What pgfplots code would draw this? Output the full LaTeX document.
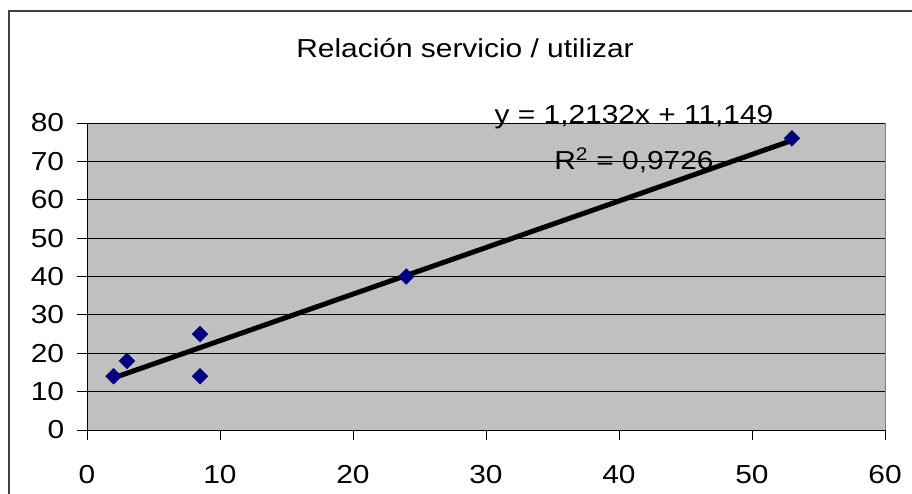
\documentclass[border=0pt]{standalone}
\usepackage{fontspec}
\setmainfont[FakeStretch=1.15]{Liberation Sans}
\usepackage{pgfplots}
\pgfplotsset{compat=1.18}
\definecolor{excelgray}{HTML}{C0C0C0}
\definecolor{navyblue}{HTML}{000080}
\begin{document}
\fontsize{26}{31}\selectfont
\begin{tikzpicture}[x=1pt,y=1pt]
\path[use as bounding box] (0,0) rectangle (912,493);
\draw[line width=1.5pt, color=black!75] (9,-5) -- (9,482) -- (920,482);
\begin{axis}[
  at={(87pt,63pt)}, anchor=south west,
  scale only axis, width=798pt, height=307pt,
  xmin=0, xmax=60, ymin=0, ymax=80,
  xtick={0,10,...,60}, ytick={0,10,...,80},
  axis background/.style={fill=excelgray, draw=gray, line width=1pt},
  axis lines=left, axis line style={-, black, line width=1pt},
  tick align=outside, major tick length=10pt, tick style={black, line width=1pt},
  ymajorgrids, grid style={black, line width=0.8pt},
  /pgf/number format/assume math mode=true,
  ticklabel style={font=\fontsize{26}{31}\selectfont},
  xticklabel style={yshift=-16pt},
  yticklabel style={xshift=-4pt},
  clip=false,
]
\addplot[only marks, mark=square*, mark size=5.6pt, mark options={rotate=45, fill=navyblue, draw=navyblue}]
  coordinates {(2,14) (3,18) (8.5,25) (8.5,14) (24,40) (53,76)};
\addplot[black, line width=5pt] coordinates {(2,13.575) (53,75.449)};
\end{axis}
\node at (465,445) {Relación servicio / utilizar};
\node at (634,376) {y = 1,2132x + 11,149};
\node at (634,333) {R\textsuperscript{2} = 0,9726};
\end{tikzpicture}
\end{document}
